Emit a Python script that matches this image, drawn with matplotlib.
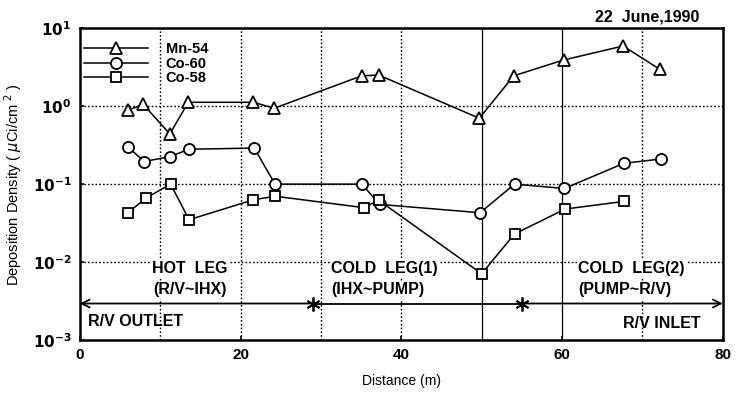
import matplotlib
matplotlib.use("Agg")
import matplotlib.pyplot as plt
from matplotlib.ticker import FixedLocator, NullLocator

plt.rcParams['font.family'] = ['Liberation Sans', 'DejaVu Sans']

# ---- data ----
mn54_x = [6.0, 7.9, 11.2, 13.5, 21.6, 24.2, 35.1, 37.2, 49.7, 54.0, 60.2, 67.6, 72.2]
mn54_y = [0.89, 1.05, 0.44, 1.12, 1.12, 0.94, 2.45, 2.5, 0.70, 2.45, 3.9, 5.9, 2.95]

co60_x = [6.0, 8.0, 11.2, 13.6, 21.7, 24.3, 35.1, 37.3, 49.8, 54.1, 60.3, 67.7, 72.3]
co60_y = [0.30, 0.195, 0.225, 0.28, 0.29, 0.10, 0.10, 0.055, 0.043, 0.10, 0.088, 0.185, 0.21]

co58_x = [6.0, 8.2, 11.3, 13.6, 21.6, 24.3, 35.3, 37.2, 50.0, 54.1, 60.4, 67.7]
co58_y = [0.043, 0.066, 0.10, 0.035, 0.063, 0.07, 0.050, 0.062, 0.0071, 0.023, 0.048, 0.060]

series_labels = ["Mn-54", "Co-60", "Co-58"]
x_ticks = [0, 20, 40, 60, 80]
x_tick_labels = ["0", "20", "40", "60", "80"]
y_ticks = [1e-3, 1e-2, 1e-1, 1e0, 1e1]
y_tick_labels = [r"$\mathbf{10^{-3}}$", r"$\mathbf{10^{-2}}$", r"$\mathbf{10^{-1}}$",
                 r"$\mathbf{10^{0}}$", r"$\mathbf{10^{1}}$"]
leg_boundaries = [29, 55]
arrow_level = 2.95e-3

fig = plt.figure(figsize=(7.39, 3.96), dpi=100)
ax = fig.add_axes([0.108, 0.141, 0.870, 0.788])
ax.set_xlim(0, 80)
ax.set_yscale('log')
ax.set_ylim(1e-3, 1e1)

# grid
for gx in [10, 20, 30, 40, 70]:
    ax.axvline(gx, color='black', lw=1.0, ls=(0, (1.2, 1.5)), zorder=1)
for gx in [50, 60]:
    ax.axvline(gx, color='black', lw=0.9, ls='-', zorder=1)
for gy in [1e0, 1e-1, 1e-2]:
    ax.axhline(gy, color='black', lw=1.0, ls=(0, (1.2, 1.5)), zorder=1)

lw = 1.1
ms_kw = dict(color='black', lw=lw, markerfacecolor='white', markeredgecolor='black',
             markeredgewidth=1.3, zorder=3)
ax.plot(mn54_x, mn54_y, marker='^', ms=8, label=series_labels[0], **ms_kw)
ax.plot(co60_x, co60_y, marker='o', ms=8, label=series_labels[1], **ms_kw)
ax.plot(co58_x, co58_y, marker='s', ms=7.5, label=series_labels[2], **ms_kw)

# region arrows
ax.annotate('', xy=(0, arrow_level), xytext=(leg_boundaries[0], arrow_level),
            arrowprops=dict(arrowstyle='->', lw=1.3, color='black', mutation_scale=14,
                            shrinkA=0, shrinkB=0), zorder=4)
ax.plot(leg_boundaries, [arrow_level, arrow_level], color='black', lw=1.3, zorder=4)
ax.annotate('', xy=(80, arrow_level), xytext=(leg_boundaries[1], arrow_level),
            arrowprops=dict(arrowstyle='->', lw=1.3, color='black', mutation_scale=14,
                            shrinkA=0, shrinkB=0), zorder=4)
ax.plot(leg_boundaries, [arrow_level, arrow_level], ls='none', marker=(6, 2, 0),
        ms=10, mew=1.3, color='black', zorder=5)

tkw = dict(fontsize=11.5, fontweight='bold', color='black', zorder=6,
           bbox=dict(facecolor='white', edgecolor='none', pad=1.0))
ax.text(13.7, 8.3e-3, "HOT  LEG", ha='center', va='center', **tkw)
ax.text(13.7, 4.4e-3, "(R/V~IHX)", ha='center', va='center', **tkw)
ax.text(31.3, 8.3e-3, "COLD  LEG(1)", ha='left', va='center', **tkw)
ax.text(31.3, 4.4e-3, "(IHX~PUMP)", ha='left', va='center', **tkw)
ax.text(62.0, 8.3e-3, "COLD  LEG(2)", ha='left', va='center', **tkw)
ax.text(62.0, 4.4e-3, "(PUMP~R/V)", ha='left', va='center', **tkw)
ax.text(1.0, 1.75e-3, "R/V OUTLET", ha='left', va='center', fontsize=11.5,
        fontweight='bold', zorder=6)
ax.text(67.6, 1.65e-3, "R/V INLET", ha='left', va='center', fontsize=11.5,
        fontweight='bold', zorder=6)

# axes styling
for s in ax.spines.values():
    s.set_linewidth(1.8)
ax.xaxis.set_major_locator(FixedLocator(x_ticks))
ax.set_xticklabels(x_tick_labels, fontsize=11, fontweight='bold')
ax.yaxis.set_major_locator(FixedLocator(y_ticks))
ax.yaxis.set_minor_locator(NullLocator())
ax.set_yticklabels(y_tick_labels, fontsize=11)
ax.tick_params(axis='both', direction='in', length=3, width=1.2, pad=6)
ax.set_xlabel("Distance (m)", fontsize=10, labelpad=8)
ax.set_ylabel(r"Deposition Density ( $\mu$Ci/cm $^{2}$ )", fontsize=10.5, labelpad=6)

leg = ax.legend(loc='upper left', bbox_to_anchor=(0.002, 0.965), frameon=False,
                handlelength=4.4, handletextpad=1.2, labelspacing=0.05,
                borderaxespad=0.0, borderpad=0.2,
                prop=dict(weight='bold', size=10.5))

fig.text(0.947, 0.957, "22  June,1990", ha='right', va='center', fontsize=11.5,
         fontweight='bold')

fig.savefig("out.png", dpi=100)
